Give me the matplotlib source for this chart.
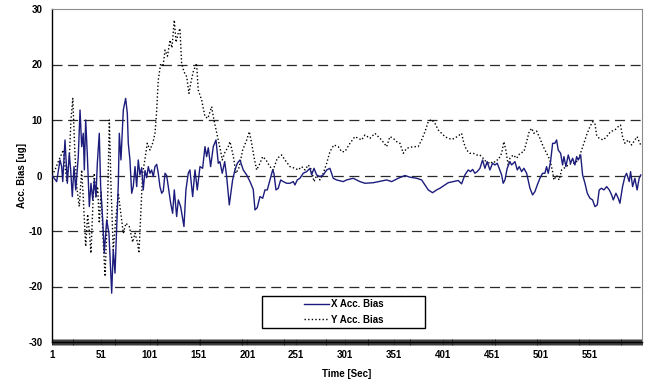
import matplotlib
matplotlib.use("Agg")
import matplotlib.pyplot as plt
from matplotlib.lines import Line2D
from matplotlib.patches import Rectangle
import numpy as np

plt.rcParams['font.family'] = ['Liberation Sans', 'DejaVu Sans']

# ---------------- data ----------------
t_x = [1, 5.8, 9.2, 10.9, 12, 14.3, 16.7, 18.7, 20.1, 21.8, 23.5, 25.3, 27.9, 29.7, 31.4, 33,
       34.1, 35.5, 37.1, 39.2, 40.9, 42.7, 44.3, 46, 47.4, 49.4, 50.8, 52.9, 54.5, 57, 59.3, 62.1,
       63.7, 65.5, 68.9, 69.9, 71.6, 74, 76.4, 78.1, 79.1, 80.8, 82.6, 84.2, 86, 87.7, 89.3, 91,
       92.8, 94.4, 96.2, 97.9, 99.6, 101.3, 103, 104.7, 106.4, 108.2, 109.8, 111.5, 113.3, 114.9,
       116.7, 118.4, 120, 122.5, 124.5, 126.2, 128.6, 130.3, 132.7, 136.1, 138.1, 140.5, 142.2,
       145, 147.4, 149.7, 152.5, 155.2, 157.6, 159.3, 161, 163.4, 166.1, 168.9, 171.2, 172.9,
       175.3, 177.8, 179.8, 182.5, 185.9, 188.3, 190.7, 193.4, 196.8, 200.3, 203.7, 207, 208.8,
       211.1, 213.9, 216.7, 219, 221.4, 224.1, 226.9, 228.2, 230.3, 232.6, 235.1, 237.7, 241.2,
       244.6, 248, 249.7, 252.1, 254.8, 258.2, 261.7, 265.1, 266.8, 269.2, 271.9, 275.3, 278.7,
       282.2, 285.5, 288.9, 292.4, 299.1, 302.6, 309.4, 316.2, 321.4, 329.9, 338.4, 343.6, 348.7,
       355.4, 362.3, 367.4, 374.3, 379.4, 382.8, 386.2, 390.6, 394.7, 398.1, 401.5, 406.6, 411.7,
       416.9, 420.3, 423.7, 427.1, 429.5, 431.6, 433.9, 436.3, 439.1, 441.8, 444.2, 446.5, 449.3,
       452, 454.4, 456.8, 458.8, 461.3, 462.9, 464.7, 467, 469.8, 471.5, 473.2, 474.9, 477.3,
       479.3, 481.8, 484.1, 486.9, 490.3, 493, 495.4, 497.8, 500.5, 503.2, 505.6, 507.3, 509,
       511.4, 513.5, 515.8, 517.6, 519.2, 521.7, 523.7, 525.1, 527.1, 529.5, 531.9, 534, 536.3,
       538.1, 539.7, 542.2, 544.2, 546.6, 549, 551.7, 554.4, 556.8, 559.2, 561.2, 563.6, 566,
       568.8, 571.5, 573.9, 575.6, 578.3, 580.7, 582.4, 585.1, 587.5, 589.2, 591.9, 593.3, 595.4,
       597.7, 600, 602.1, 603.8]
x_bias = [0, -1.1, 2.8, 1.6, -1.1, 6.4, -1.4, 4.0, 1.0, -3.8, 1.6, -2.6, 3.4, 11.8, 5.2, 7.6,
          1.0, 10, 4, -5.6, -1.4, -4.4, -0.8, -3.8, 2.2, 7.6, -2, -8, -14, -8, -10.4, -21.2,
          -13.4, -17.6, -1.4, 7.6, 2.8, 11.8, 13.9, 11.2, 5.8, 2.8, -3.2, -2, 1.6, -2, 2.8, 0.1,
          1.4, -2.6, 0.9, -0.4, 1.6, 0.4, 1.0, -0.2, 1.6, 2.0, 0.4, -2, -3.2, -2.8,
          0.4, 0, -2, -5, -6.8, -2.6, -7.4, -4.4, -5.6, -9.2, -2.6, 0.4, 1.0,
          -3.8, 1, -2.6, 1.6, 1.3, 5.2, 3.4, 5.0, 1.6, 5.2, 6.4, 2.2, 2.5,
          0.4, 2.5, -0.2, -5.3, -0.8, 1, 2.2, 2.8, 1.0, 0.1, -1.1, -2.5, -6.2,
          -5.8, -3.8, -4.1, -2.6, -2.6, -0.8, 1, 0.4, -2.6, -2.3, -0.8, -1.1, -1.4,
          -1.4, -1.1, -1.7, -0.8, -0.5, 0.4, 0.7, 1.3, 0.1, 1.3, 0.1, -0.2, 0.1,
          1, 1.3, -0.5, -0.8, -1.1, -0.8, -0.5, -1.1, -1.4, -1.3, -1, -0.8, -1.1,
          -0.5, 0, -0.3, -0.5, -0.8, -1.7, -2.6, -3.1, -2.6, -2.3, -1.9, -1.3, -1.1,
          -0.9, -1.5, 0.1, 1, 0.7, 1.1, 0.4, 0.7, 1.3, 2.8, 1.3, 2.5, 1,
          2.2, 1.9, 2.2, 1.3, 0.1, -1.4, -0.8, 1.3, 2.5, 1.9, 2.2, 2.5, 1,
          1.6, 0.7, 1.3, 0.4, -2.3, -3.5, -2.9, -1.7, -0.5, 0.4, 0.4, 1.6, 0.4,
          2.5, 5.8, 5.8, 6.4, 4.6, 4, 1.9, 3.4, 1.6, 3.7, 2.2, 3.1, 1.9,
          3.4, 2.8, 3.7, 0.1, -1.4, -3.2, -4.1, -4.4, -5.6, -5.3, -2.6, -2.3, -2.6,
          -2, -2.6, -3.5, -4.4, -3.2, -4.1, -5, -2, -0.2, 0.4, -1.1, 0.7, -2,
          -0.5, -2.6, -0.5, 0.1]

t_y = [1, 4.1, 7.4, 12.6, 16, 18.7, 20.4, 22.3, 24.2, 26.3, 28.9, 31.4, 33, 35.5, 37.5, 39.2,
       40.9, 42.7, 44.3, 46, 47.7, 49.4, 51.2, 53.5, 55.3, 57.6, 59.7, 61.4, 63.7, 66.2, 68.9,
       70.6, 74, 76.7, 80.1, 83.6, 86, 88.7, 90, 93.8, 96.2, 98.5, 101.3, 104.4, 106.4, 107.8,
       109.8, 112.3, 114.6, 116.7, 119.2, 121.8, 123.8, 126.2, 128, 130, 132, 133.7, 136.1,
       138.9, 141.2, 143, 145.6, 149, 150.7, 154.2, 157.6, 160.6, 164.4, 166.8, 171.2, 173.5,
       175.3, 178.1, 181.4, 183.2, 186.6, 189.3, 192.7, 196.2, 200.3, 203, 205.4, 207.7, 210.5,
       213.9, 216.7, 220.1, 224.1, 227.5, 231.6, 236.1, 239.5, 244.6, 249.7, 253.1, 256.6, 260,
       263.3, 266.8, 269.2, 271.9, 275.3, 278.7, 282.2, 285.5, 289.6, 294, 297.5, 300.9, 306,
       311.1, 314.5, 318, 321.4, 326.5, 331.6, 335, 338.4, 343.6, 346.9, 350.3, 353.8, 357.2,
       360.6, 364.1, 370.8, 375.9, 379.4, 382.8, 386.2, 389.6, 393, 396.4, 399.9, 403.3, 406.7,
       410.5, 415.9, 420.3, 422.7, 425.4, 428.8, 432.2, 435.6, 439, 442.4, 444.2, 446.5, 449.3,
       452.7, 456.1, 457.8, 461.3, 463.6, 465.7, 468, 469.8, 473.2, 476.6, 480, 484.1, 486.9,
       489.5, 492, 494.3, 497.1, 500.5, 503.9, 507.4, 510.7, 513.5, 514.8, 517.6, 520.2, 522.7,
       525.1, 529.5, 533, 536.3, 539.7, 543.2, 545.5, 548.3, 551.7, 554.5, 556.8, 558.5, 561.2,
       565.3, 568.8, 572.8, 577.3, 580.6, 583, 585.1, 587.5, 590.9, 594.3, 597.7, 600, 602.1,
       604.5]
y_bias = [0, 1.0, 2.5, 4.6, -1, 3, 10, 13.9, 5, -2, -5.6, 1.0, -4, -12.8, -7, -10.1,
          -14, -6, 0.4, -4, -2, -8.6, -3, -12, -18.2, -7.4, 10, -2, -13.4, -8, -3.2,
          -5.6, -10.4, -8.6, -9.2, -12, -10.4, -12.2, -14, 0.4, 3, 5.8, 4.6, 6, 7.6, 10.6,
          17.2, 20.2, 19.6, 22.6, 21.5, 24.4, 23, 28, 24, 25.5, 26.5, 20.2, 18.7,
          17.8, 14.8, 16.6, 18.7, 20.2, 15.4, 13.6, 10.6, 10.3, 12.4, 10, 6.4, 4.5,
          2.8, 4.2, 5.2, 6.1, 3.5, 0.4, 1.5, 4.6, 6.4, 7.9, 5.8, 3.4, 1,
          2.2, 3.4, 2.8, 1.6, 1, 3.1, 3.7, 2.8, 1.6, 1.3, 1, 1.6, 1,
          1.9, 1, -1.1, 0, -0.8, 0.4, 2.2, 4.3, 5.5, 5.2, 4.3, 4.3, 5.8,
          7, 6.7, 6.4, 7.3, 6.7, 7.6, 7, 6.4, 5.2, 7, 6.7, 6.1, 5.8,
          4, 4.9, 5.2, 5.2, 6.4, 7.9, 9.7, 10.1, 9.4, 8.2, 7.6, 7.0, 6.7,
          6.5, 7, 7.6, 5.8, 4.6, 4, 4, 3.7, 3.7, 3.1, 2.8, 1.9, 2.5,
          2.2, 2.8, 2.8, 4, 6.1, 4.5, 1.9, 3.1, 3.7, 3.1, 4, 4.3, 6.1,
          7.9, 8.5, 7.6, 8, 6.7, 5.2, 4, 2.8, 0.7, -0.8, 0, -0.8, 1,
          1.3, 1.9, 2.2, 2.2, 2.8, 4.6, 5.8, 7.3, 8.8, 9.7, 9.4, 7.3, 6.7,
          6.4, 7, 7.9, 8.2, 8.8, 9.1, 7, 5.8, 6.4, 5.5, 6.4, 7, 6.1,
          5.2]

y_ticks = [-30, -20, -10, 0, 10, 20, 30]
x_tick_labels = [1, 51, 101, 151, 201, 251, 301, 351, 401, 451, 501, 551]
series_names = ["X Acc. Bias", "Y Acc. Bias"]

# ---------------- figure ----------------
W, H = 649, 383
fig = plt.figure(figsize=(W / 100, H / 100), dpi=100)
L, R, T, B = 52, 642, 9, 342
ax = fig.add_axes([L / W, 1 - B / H, (R - L) / W, (B - T) / H])

ax.set_xlim(1, 605)
ax.set_ylim(-30, 30)

# grid lines (dashed)
for yv in y_ticks[1:-1]:
    ax.axhline(yv, color='#2a2a2a', lw=0.9, dashes=(8, 4.5), zorder=1)

navy = '#1c1c7c'
dot_style = (0, (1, 1.6))
ax.plot(t_x, x_bias, color=navy, lw=1.0, zorder=3)
ax.plot(t_y, y_bias, color='black', lw=1.0, linestyle=dot_style, zorder=2)

# spines
ax.spines['left'].set_color('black')
ax.spines['left'].set_linewidth(1.0)
ax.spines['bottom'].set_color('black')
ax.spines['bottom'].set_linewidth(1.0)
ax.spines['top'].set_color('#8c8c8c')
ax.spines['right'].set_color('#8c8c8c')

# y ticks
ax.set_yticks(y_ticks)
ax.set_yticklabels([str(v) for v in y_ticks], fontsize=7, fontweight='bold')
ax.tick_params(axis='y', length=0, pad=7)

# x ticks: labels every 50, dense category ticks
ax.set_xticks(x_tick_labels)
ax.set_xticklabels([str(v) for v in x_tick_labels], fontsize=7, fontweight='bold')
ax.set_xticks(np.arange(1, 606, 1), minor=True)
ax.tick_params(axis='x', which='major', length=4, width=0.6, direction='inout', pad=4)
ax.tick_params(axis='x', which='minor', length=4, width=0.6, direction='inout', color='#1a1a1a')

ax.set_xlabel("Time [Sec]", fontsize=7, fontweight='bold', labelpad=6)
ax.set_ylabel("Acc. Bias [ug]", fontsize=7, fontweight='bold', labelpad=1)

# legend: box drawn in axes coords, entries centred inside
bx0 = (262 - L) / (R - L)
bx1 = (425 - L) / (R - L)
by0 = (B - 328) / (B - T)
by1 = (B - 296) / (B - T)
ax.add_patch(Rectangle((bx0, by0), bx1 - bx0, by1 - by0, transform=ax.transAxes,
                       facecolor='white', edgecolor='black', lw=1.0, zorder=5))
handles = [Line2D([], [], color=navy, lw=1.0),
           Line2D([], [], color='black', lw=1.0, linestyle=dot_style)]
leg = ax.legend(handles, series_names, loc='center',
                bbox_to_anchor=((bx0 + bx1) / 2, (by0 + by1) / 2),
                prop={'size': 7, 'weight': 'bold'}, frameon=False, handlelength=2.6,
                handletextpad=0.2, borderpad=0, labelspacing=0.55, borderaxespad=0)
leg.set_zorder(6)

fig.savefig("out.png", dpi=100)
